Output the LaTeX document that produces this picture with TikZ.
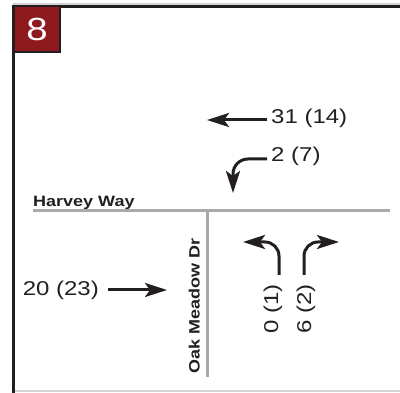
\documentclass[tikz,border=0pt]{standalone}
\usepackage{fontspec}
\setmainfont{Liberation Sans}[FakeStretch=1.2]
\usepackage{tikz}
\usetikzlibrary{arrows.meta, positioning}
\definecolor{tblack}{HTML}{231F20}
\definecolor{tred}{HTML}{8E1A1E}
\definecolor{troad}{HTML}{A7A9AC}
\definecolor{tframe}{HTML}{D1D3D4}
\tikzset{
  road/.style={line width=3pt, troad},
  move/.style={-{Stealth[length=22pt, width=14pt, inset=5pt]}, line width=3pt, tblack},
  vol/.style={font=\fontsize{20}{22}\selectfont, text=tblack, inner sep=0pt},
  street/.style={font=\fontsize{15}{17}\selectfont\bfseries, text=tblack, inner sep=0pt},
  tag/.style={draw=tblack, line width=2pt, fill=tred, text=white, minimum size=46pt,
              inner sep=0pt, font=\fontsize{32}{32}\selectfont},
}

\begin{document}
\begin{tikzpicture}[x=1pt, y=-1pt]
  \useasboundingbox (0,0) rectangle (400,393);

  % frame
  \draw[tframe, line width=1.5pt] (13,4.2) -- (400,4.2);
  \draw[tframe, line width=2pt] (15,391) -- (400,391);
  \draw[tblack, line width=3pt] (12,6.5) -- (400,6.5);
  \draw[tblack, line width=3pt] (13.5,5) -- (13.5,393);
  \node[tag] (num) at (37,29) {8};

  % roads
  \coordinate (hw-w) at (33,211);
  \coordinate (hw-e) at (390,211);
  \coordinate (om-n) at (207,211);
  \coordinate (om-s) at (207,377);
  \draw[road] (hw-w) -- (hw-e);
  \draw[road] (om-n) -- (om-s);
  \node[street, anchor=base west] (hw) at (33,207) {Harvey Way};
  \node[street, anchor=base west, rotate=90] (om) at (199.5,374) {Oak Meadow Dr};

  % westbound
  \node[vol, anchor=west] (wbt) at (271,118) {31 (14)};
  \coordinate (wbt-s) at (267,120);
  \coordinate (wbt-e) at (207,120);
  \draw[move] (wbt-s) -- (wbt-e);

  \node[vol, anchor=west] (wbl) at (271,156) {2 (7)};
  \coordinate (wbl-s) at (267,159);
  \coordinate (wbl-e) at (233,193);
  \draw[move, rounded corners=15pt] (wbl-s) -| (wbl-e);

  % eastbound
  \node[vol, anchor=east] (ebt) at (99,290) {20 (23)};
  \coordinate (ebt-s) at (108,290);
  \coordinate (ebt-e) at (167,290);
  \draw[move] (ebt-s) -- (ebt-e);

  % northbound
  \node[vol, rotate=90] (nbl) at (273,309) {0 (1)};
  \node[vol, rotate=90] (nbr) at (306,309) {6 (2)};
  \coordinate (nbl-s) at (279,275);
  \coordinate (nbl-e) at (243,242);
  \coordinate (nbr-s) at (304,275);
  \coordinate (nbr-e) at (339,242);
  \draw[move, rounded corners=14pt] (nbl-s) |- (nbl-e);
  \draw[move, rounded corners=14pt] (nbr-s) |- (nbr-e);
\end{tikzpicture}
\end{document}
